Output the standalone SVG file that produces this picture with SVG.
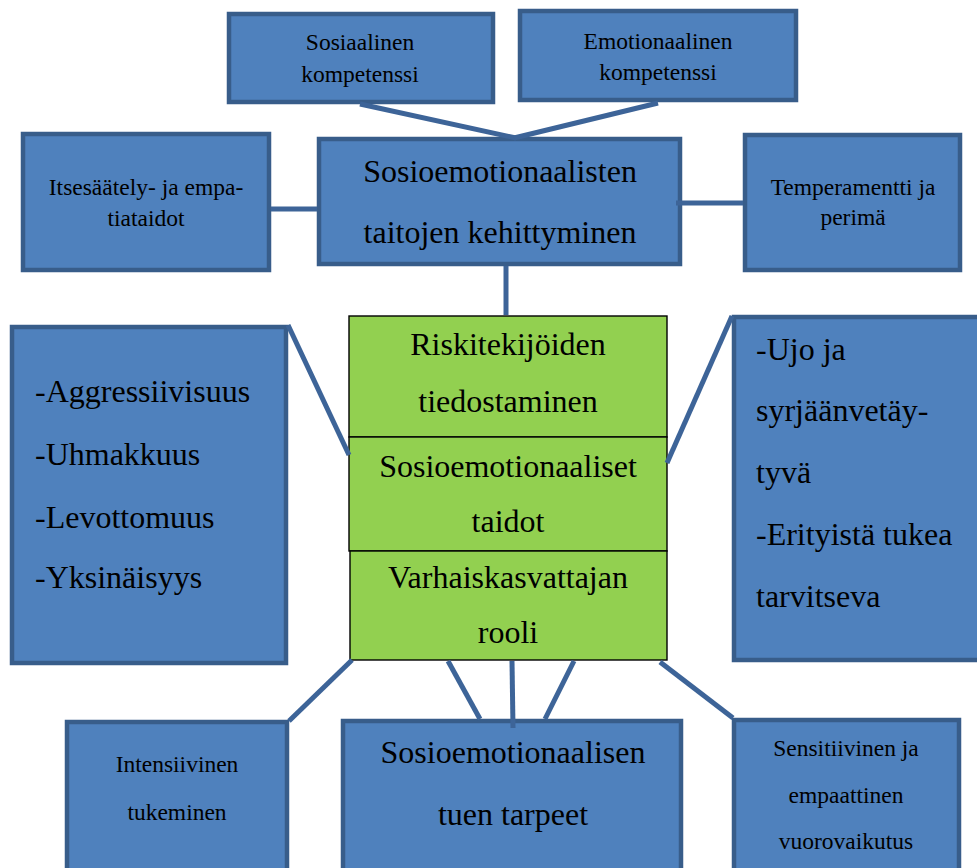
<svg xmlns="http://www.w3.org/2000/svg" width="977" height="868" viewBox="0 0 977 868">
<style>
.b{fill:#4F81BD;stroke:#385D8A;stroke-width:4.5}
.g{fill:#92D050;stroke:#000;stroke-width:1.4}
text{font-family:"Liberation Serif","Times New Roman",serif;fill:#000}
.s{font-size:23.5px;text-anchor:middle}
.L{font-size:32px;text-anchor:middle}
.l{font-size:32px}
.c{stroke:#3D6498;stroke-width:5;fill:none}
</style>
<rect width="977" height="868" fill="#fff"/>
<g id="sosiaalinen">
<rect class="b" x="229" y="14" width="264" height="88"/>
<text class="s" x="360" y="50">Sosiaalinen</text>
<text class="s" x="360" y="82">kompetenssi</text>
</g>
<g id="emotionaalinen">
<rect class="b" x="520" y="11" width="276" height="89"/>
<text class="s" x="658" y="49">Emotionaalinen</text>
<text class="s" x="658" y="80">kompetenssi</text>
</g>
<g id="kehittyminen">
<rect class="b" x="319" y="139" width="361" height="125"/>
<text class="L" x="500" y="182">Sosioemotionaalisten</text>
<text class="L" x="500" y="243">taitojen kehittyminen</text>
</g>
<g id="itsesaately">
<rect class="b" x="23" y="134" width="246" height="136"/>
<text class="s" x="146" y="195">Itsesäätely- ja empa-</text>
<text class="s" x="146" y="226">tiataidot</text>
</g>
<g id="temperamentti">
<rect class="b" x="745" y="135" width="215" height="135"/>
<text class="s" x="853" y="195">Temperamentti ja</text>
<text class="s" x="853" y="225">perimä</text>
</g>
<g id="riskit">
<rect class="b" x="12" y="327" width="274" height="336"/>
<text class="l" x="35" y="402">-Aggressiivisuus</text>
<text class="l" x="35" y="465">-Uhmakkuus</text>
<text class="l" x="35" y="528">-Levottomuus</text>
<text class="l" x="35" y="588">-Yksinäisyys</text>
</g>
<g id="ujo">
<rect class="b" x="734" y="317" width="260" height="343"/>
<text class="l" x="756" y="360">-Ujo ja</text>
<text class="l" x="756" y="421">syrjäänvetäy-</text>
<text class="l" x="756" y="483">tyvä</text>
<text class="l" x="756" y="545">-Erityistä tukea</text>
<text class="l" x="756" y="607">tarvitseva</text>
</g>
<g id="riskitekijoiden">
<rect class="g" x="349" y="316" width="318" height="121"/>
<text class="L" x="508" y="355">Riskitekijöiden</text>
<text class="L" x="508" y="412">tiedostaminen</text>
</g>
<g id="taidot">
<rect class="g" x="349" y="437" width="318" height="114"/>
<text class="L" x="508" y="477">Sosioemotionaaliset</text>
<text class="L" x="508" y="532">taidot</text>
</g>
<g id="rooli">
<rect class="g" x="350" y="551" width="317" height="109"/>
<text class="L" x="508" y="588">Varhaiskasvattajan</text>
<text class="L" x="508" y="643">rooli</text>
</g>
<g id="intensiivinen">
<rect class="b" x="67" y="722" width="220" height="152"/>
<text class="s" x="177" y="772">Intensiivinen</text>
<text class="s" x="177" y="820">tukeminen</text>
</g>
<g id="tarpeet">
<rect class="b" x="343" y="721" width="338" height="152"/>
<text class="L" x="513" y="763">Sosioemotionaalisen</text>
<text class="L" x="513" y="825">tuen tarpeet</text>
</g>
<g id="sensitiivinen">
<rect class="b" x="734" y="720" width="225" height="152"/>
<text class="s" x="846" y="756">Sensitiivinen ja</text>
<text class="s" x="846" y="803">empaattinen</text>
<text class="s" x="846" y="849">vuorovaikutus</text>
</g>
<g id="connectors">
<line class="c" x1="360" y1="104" x2="516" y2="138"/>
<line class="c" x1="658" y1="103" x2="514" y2="138"/>
<line class="c" x1="271" y1="209" x2="317" y2="209"/>
<line class="c" x1="676" y1="203" x2="743" y2="203"/>
<line class="c" x1="506" y1="266" x2="506" y2="315"/>
<line class="c" x1="288" y1="325" x2="349" y2="455"/>
<line class="c" x1="732" y1="316" x2="667" y2="463"/>
<line class="c" x1="352" y1="660" x2="289" y2="721"/>
<line class="c" x1="448" y1="661" x2="480" y2="719"/>
<line class="c" x1="512" y1="661" x2="513" y2="728"/>
<line class="c" x1="574" y1="661" x2="545" y2="719"/>
<line class="c" x1="660" y1="662" x2="733" y2="718"/>
</g>
</svg>
